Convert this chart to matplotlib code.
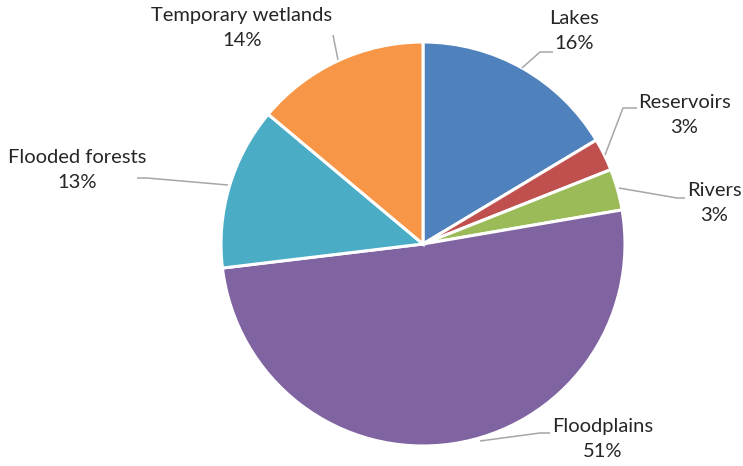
import matplotlib.pyplot as plt

labels = ["Lakes", "Reservoirs", "Rivers", "Floodplains", "Flooded forests", "Temporary wetlands"]
shares = [16.4, 2.6, 3.3, 50.8, 13.0, 13.9]
pct_text = ["16%", "3%", "3%", "51%", "13%", "14%"]
colors = ["#4F81BD", "#C0504D", "#9BBB59", "#8064A2", "#4BACC6", "#F79646"]

# pie geometry in pixels
CX, CY, R = 423, 244, 202
W, H = 743, 466


def to_data(px, py):
    return (px - CX) / R, (CY - py) / R


# label centres and leader lines (pixel positions)
label_pos = [(574, 31), (684, 115), (714, 203), (603, 439), (77, 170), (242, 28)]
leaders = [
    [(522, 68), (540, 52), (553, 52)],
    [(605, 155), (623, 108), (637, 108)],
    [(619, 188), (677, 198), (685, 198)],
    [(480, 441), (540, 433), (550, 433)],
    [(228, 185), (147, 178), (137, 178)],
    [(338, 60), (333, 35)],
]

plt.rcParams["font.family"] = ["Lato", "DejaVu Sans"]

fig = plt.figure(figsize=(W / 100, H / 100), dpi=100)
ax = fig.add_axes([0, 0, 1, 1])
ax.pie(
    shares,
    colors=colors,
    startangle=90,
    counterclock=False,
    radius=1,
    wedgeprops=dict(edgecolor="white", linewidth=2.2),
)
ax.set_aspect("auto")
ax.set_xlim(-CX / R, (W - CX) / R)
ax.set_ylim(-(H - CY) / R, CY / R)
ax.axis("off")

for name, pct, pos, line in zip(labels, pct_text, label_pos, leaders):
    xs, ys = zip(*[to_data(*p) for p in line])
    ax.plot(xs, ys, color="#A6A6A6", linewidth=1.1, solid_capstyle="butt")
    tx, ty = to_data(*pos)
    ax.text(tx, ty, name + "\n" + pct, ha="center", va="center",
            fontsize=14.5, color="#262626", linespacing=1.55)

fig.savefig("out.png", dpi=100)
